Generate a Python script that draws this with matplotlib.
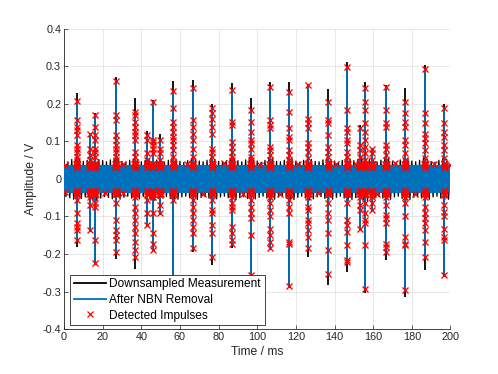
import matplotlib.pyplot as plt
import numpy as np

plt.rcParams["font.family"] = ["Liberation Sans", "DejaVu Sans"]
plt.rcParams["axes.unicode_minus"] = False

# impulse positions (ms)
impulse_t = [6.5, 13.5, 16.0, 26.9, 36.7, 43.1, 45.9, 49.7, 56.6, 66.6, 76.8,
             86.8, 96.6, 106.6, 116.6, 126.4, 136.8, 146.6, 153.2, 155.8,
             159.6, 166.6, 176.5, 186.8, 196.8]

# extent of the raw (black) trace at each impulse
raw_top = [0.228, 0.123, 0.176, 0.273, 0.215, 0.129, 0.210, 0.121, 0.262,
           0.265, 0.201, 0.257, 0.217, 0.259, 0.259, 0.252, 0.240, 0.313,
           0.144, 0.259, 0.083, 0.250, 0.242, 0.304, 0.201]
raw_bot = [-0.181, -0.140, -0.230, -0.212, -0.241, -0.125, -0.190, -0.095,
           -0.310, -0.194, -0.229, -0.185, -0.260, -0.190, -0.290, -0.207,
           -0.283, -0.247, -0.135, -0.305, -0.085, -0.216, -0.314, -0.243,
           -0.260]

# extent of the cleaned (blue) trace at each impulse
clean_top = [0.209, 0.121, 0.170, 0.262, 0.179, 0.117, 0.206, 0.105, 0.235,
             0.242, 0.188, 0.237, 0.184, 0.246, 0.233, 0.250, 0.206, 0.299,
             0.135, 0.242, 0.081, 0.246, 0.206, 0.292, 0.188]
clean_bot = [-0.163, -0.136, -0.225, -0.194, -0.207, -0.123, -0.188, -0.092,
             -0.300, -0.185, -0.207, -0.172, -0.256, -0.185, -0.285, -0.185,
             -0.252, -0.220, -0.132, -0.292, -0.083, -0.194, -0.296, -0.207,
             -0.256]

# detected impulse samples along each impulse (V)
pos_marks = [
    [0.209, 0.157, 0.139, 0.130, 0.117, 0.090, 0.081, 0.072, 0.059, 0.050, 0.041],
    [0.121, 0.081, 0.064, 0.050],
    [0.170, 0.139, 0.117, 0.104, 0.081, 0.072, 0.059],
    [0.262, 0.170, 0.157, 0.117, 0.104, 0.090, 0.081, 0.072, 0.059, 0.050],
    [0.179, 0.170, 0.153, 0.139, 0.126, 0.117, 0.104, 0.072, 0.059, 0.046],
    [0.117, 0.104, 0.068, 0.050],
    [0.206, 0.104, 0.099, 0.090, 0.081, 0.068],
    [0.105, 0.081, 0.068, 0.050],
    [0.235, 0.188, 0.153, 0.139, 0.126, 0.113, 0.104, 0.090, 0.077, 0.059, 0.046],
    [0.242, 0.157, 0.139, 0.121, 0.104, 0.081, 0.059],
    [0.188, 0.175, 0.161, 0.139, 0.121, 0.081, 0.072, 0.059, 0.046],
    [0.237, 0.153, 0.144, 0.099, 0.086, 0.072, 0.059, 0.050],
    [0.184, 0.153, 0.126, 0.104, 0.095, 0.081, 0.059, 0.050],
    [0.246, 0.157, 0.144, 0.135, 0.086, 0.077, 0.064, 0.050],
    [0.233, 0.179, 0.135, 0.113, 0.104, 0.077, 0.064, 0.050],
    [0.250, 0.161, 0.148, 0.135, 0.095, 0.086, 0.072, 0.055],
    [0.206, 0.157, 0.148, 0.117, 0.086, 0.072, 0.059, 0.046],
    [0.299, 0.184, 0.135, 0.126, 0.104, 0.095, 0.072, 0.059, 0.046],
    [0.135, 0.090, 0.077, 0.059],
    [0.242, 0.206, 0.184, 0.148, 0.126, 0.104, 0.086, 0.068, 0.050],
    [0.081, 0.068, 0.050],
    [0.246, 0.184, 0.148, 0.139, 0.090, 0.081, 0.064, 0.050],
    [0.206, 0.175, 0.153, 0.139, 0.104, 0.090, 0.068, 0.050],
    [0.292, 0.175, 0.148, 0.121, 0.108, 0.095, 0.077, 0.055],
    [0.188, 0.148, 0.126, 0.113, 0.090, 0.077, 0.055],
]
neg_marks = [
    [-0.038, -0.056, -0.092, -0.118, -0.127, -0.136, -0.163],
    [-0.047, -0.069, -0.136],
    [-0.043, -0.065, -0.074, -0.163, -0.225],
    [-0.038, -0.065, -0.109, -0.136, -0.149, -0.163, -0.194],
    [-0.047, -0.074, -0.092, -0.109, -0.127, -0.145, -0.167, -0.189, -0.207],
    [-0.056, -0.092, -0.123],
    [-0.047, -0.092, -0.145, -0.172, -0.188],
    [-0.043, -0.069, -0.092],
    [-0.038, -0.056],
    [-0.038, -0.056, -0.074, -0.092, -0.109, -0.127, -0.145, -0.185],
    [-0.038, -0.056, -0.083, -0.092, -0.123, -0.145, -0.207],
    [-0.047, -0.065, -0.074, -0.083, -0.127, -0.145, -0.163, -0.172],
    [-0.038, -0.056, -0.074, -0.092, -0.105, -0.149, -0.256],
    [-0.047, -0.065, -0.083, -0.100, -0.132, -0.149, -0.167, -0.185],
    [-0.038, -0.056, -0.074, -0.092, -0.167, -0.172, -0.285],
    [-0.047, -0.074, -0.083, -0.109, -0.118, -0.136, -0.154, -0.185],
    [-0.038, -0.065, -0.092, -0.109, -0.145, -0.189, -0.252],
    [-0.038, -0.065, -0.109, -0.123, -0.141, -0.176, -0.216, -0.220],
    [-0.047, -0.069, -0.083, -0.132],
    [-0.043, -0.065, -0.092, -0.109, -0.118, -0.176, -0.292],
    [-0.047, -0.065, -0.083],
    [-0.047, -0.069, -0.096, -0.105, -0.118, -0.172, -0.181, -0.194],
    [-0.047, -0.065, -0.100, -0.154, -0.172, -0.176, -0.296],
    [-0.047, -0.074, -0.092, -0.105, -0.118, -0.136, -0.167, -0.207],
    [-0.043, -0.069, -0.087, -0.100, -0.132, -0.154, -0.163, -0.256],
]

# dense detections at the base of each impulse
base_levels = [0.032, 0.040, -0.032, -0.040]
base_offsets = [-0.4, 0.0, 0.4]

# isolated detections on the noise floor
stray_t = [0.4, 0.4, 21.0, 30.7, 30.7, 63.5, 72.0, 83.0, 92.5, 101.5, 112.0,
           121.0, 131.5, 141.0, 151.0, 162.0, 171.5, 181.5, 191.5, 199.5]
stray_v = [0.036, -0.036, -0.038, 0.040, -0.037, 0.040, -0.040, 0.042, -0.039,
           0.038, -0.041, 0.040, -0.038, 0.041, 0.039, -0.040, 0.042, -0.039,
           0.040, 0.037]

# noise floor of the raw trace: crest values at even ms, trough values at odd ms
crest_t = list(range(0, 201, 2))
trough_t = list(range(1, 200, 2))
raw_crest = [0.048, 0.046, 0.052, 0.056, 0.054, 0.047, 0.050, 0.055, 0.057, 0.052,
             0.049, 0.046, 0.051, 0.055, 0.053, 0.047, 0.045, 0.050, 0.054, 0.052,
             0.046, 0.050, 0.053, 0.056, 0.051, 0.049, 0.045, 0.050, 0.058, 0.053,
             0.047, 0.044, 0.049, 0.055, 0.054, 0.048, 0.046, 0.050, 0.056, 0.052,
             0.047, 0.045, 0.049, 0.054, 0.055, 0.049, 0.046, 0.051, 0.057, 0.052,
             0.048, 0.045, 0.050, 0.055, 0.053, 0.047, 0.046, 0.050, 0.056, 0.054,
             0.048, 0.045, 0.050, 0.055, 0.052, 0.047, 0.046, 0.051, 0.056, 0.053,
             0.048, 0.045, 0.050, 0.057, 0.054, 0.049, 0.052, 0.055, 0.057, 0.052,
             0.050, 0.046, 0.050, 0.055, 0.053, 0.047, 0.045, 0.051, 0.056, 0.054,
             0.048, 0.046, 0.050, 0.056, 0.053, 0.047, 0.045, 0.050, 0.055, 0.053,
             0.049]
raw_trough = [-0.047, -0.050, -0.054, -0.057, -0.052, -0.048, -0.051, -0.056, -0.058, -0.051,
              -0.047, -0.049, -0.053, -0.056, -0.054, -0.049, -0.046, -0.051, -0.056, -0.053,
              -0.047, -0.052, -0.055, -0.057, -0.052, -0.050, -0.047, -0.052, -0.058, -0.054,
              -0.048, -0.046, -0.050, -0.056, -0.055, -0.049, -0.047, -0.051, -0.057, -0.053,
              -0.048, -0.046, -0.050, -0.055, -0.056, -0.050, -0.047, -0.052, -0.057, -0.053,
              -0.049, -0.046, -0.051, -0.056, -0.054, -0.048, -0.047, -0.051, -0.057, -0.055,
              -0.049, -0.046, -0.051, -0.056, -0.053, -0.048, -0.047, -0.052, -0.057, -0.054,
              -0.049, -0.046, -0.051, -0.058, -0.055, -0.050, -0.053, -0.056, -0.058, -0.053,
              -0.051, -0.047, -0.051, -0.056, -0.054, -0.048, -0.046, -0.052, -0.057, -0.055,
              -0.049, -0.047, -0.051, -0.057, -0.054, -0.048, -0.046, -0.051, -0.056, -0.054]
clean_upper = 0.036
clean_lower = -0.037

raw_color = "black"
clean_color = "#0072BD"
text_color = "#262626"

fig = plt.figure(figsize=(4.98, 3.74), dpi=100)
ax = fig.add_axes([0.1285, 0.1203, 0.7761, 0.8022])

# raw measurement: zig-zag through crests and troughs plus impulse spikes
floor_t, floor_v = [], []
for i, (tc, vc) in enumerate(zip(crest_t, raw_crest)):
    floor_t.append(tc)
    floor_v.append(vc)
    if i < len(trough_t):
        floor_t.append(trough_t[i])
        floor_v.append(raw_trough[i])
ax.plot(floor_t, floor_v, color=raw_color, lw=0.9, zorder=2)
ax.vlines(impulse_t, raw_bot, raw_top, color=raw_color, lw=1.3, zorder=2)

# after NBN removal
ax.fill_between([crest_t[0], crest_t[-1]], clean_lower, clean_upper,
                color=clean_color, lw=0, zorder=3)
ax.vlines(impulse_t, clean_bot, clean_top, color=clean_color, lw=1.3, zorder=3)

# detected impulses
det_t, det_v = [], []
for t, pm, nm in zip(impulse_t, pos_marks, neg_marks):
    det_t += [t] * (len(pm) + len(nm))
    det_v += pm + nm
    for dt in base_offsets:
        det_t += [t + dt] * len(base_levels)
        det_v += base_levels
det_t += stray_t
det_v += stray_v
ax.plot(det_t, det_v, "x", color="red", ms=4.0, mew=0.95, zorder=4)

# legend proxies
h_raw, = ax.plot([], [], color=raw_color, lw=1.3, label="Downsampled Measurement")
h_clean, = ax.plot([], [], color=clean_color, lw=1.3, label="After NBN Removal")
h_det, = ax.plot([], [], "x", color="red", ms=3.8, mew=0.9, label="Detected Impulses")

ax.set_xlim(0, 200)
ax.set_ylim(-0.4, 0.4)
ax.set_xticks(np.arange(0, 201, 20))
ax.set_yticks(np.arange(-0.4, 0.41, 0.1))
ax.set_yticklabels(["-0.4", "-0.3", "-0.2", "-0.1", "0", "0.1", "0.2", "0.3", "0.4"])
ax.grid(True, color="#e3e3e3", lw=0.6, zorder=0)
ax.set_axisbelow(True)
for side in ["top", "right"]:
    ax.spines[side].set_visible(False)
for side in ["left", "bottom"]:
    ax.spines[side].set_color(text_color)
    ax.spines[side].set_linewidth(0.6)
ax.tick_params(direction="in", length=3, width=0.5, colors=text_color,
               labelsize=7.8, pad=2)
ax.set_xlabel("Time / ms", fontsize=8.7, color=text_color, labelpad=3)
ax.set_ylabel("Amplitude / V", fontsize=8.7, color=text_color, labelpad=4)

leg = ax.legend(handles=[h_raw, h_clean, h_det], loc="lower left",
                bbox_to_anchor=(0.0155, 0.013), borderaxespad=0,
                fontsize=8.6, fancybox=False, framealpha=1,
                edgecolor=text_color, handlelength=2.7, handletextpad=0.3,
                labelspacing=0.3, borderpad=0.3)
leg.get_frame().set_linewidth(0.6)
leg.set_zorder(10)

fig.savefig("out.png", dpi=100)
